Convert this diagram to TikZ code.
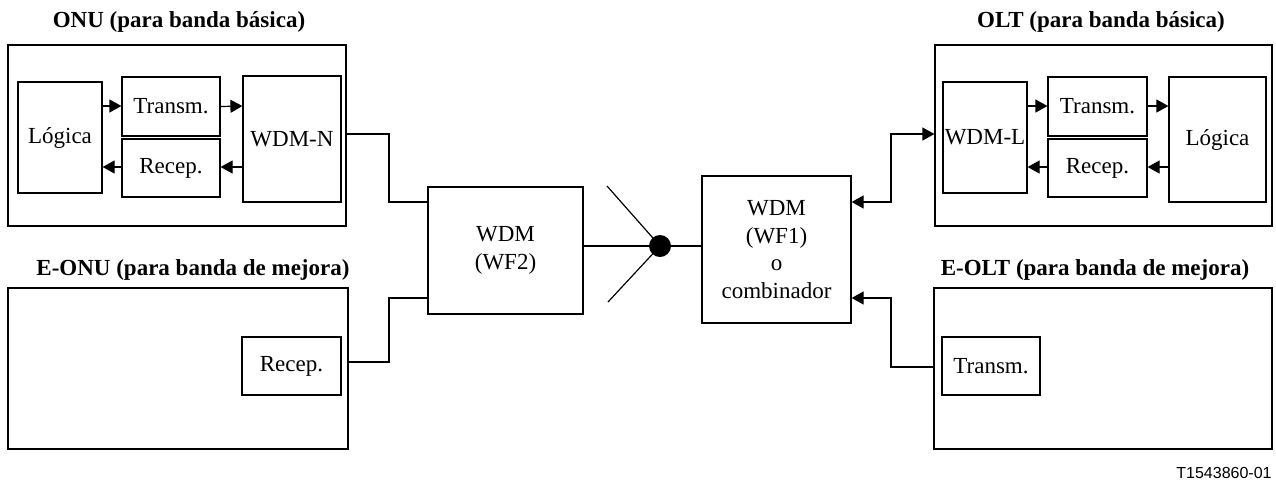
\documentclass[tikz,border=0pt]{standalone}
\usepackage{fontspec}
\setmainfont{Liberation Serif}
\newfontfamily\footfont{Liberation Sans}
\usetikzlibrary{arrows.meta}
\begin{document}
\begin{tikzpicture}[x=0.5pt,y=-0.5pt,
  box/.style={draw, line width=0.6pt, inner sep=0pt, align=center, font=\fontsize{11.5}{13.7}\selectfont},
  ttl/.style={font=\fontsize{11.5}{13}\selectfont\bfseries, inner sep=0pt},
  wire/.style={line width=0.6pt},
  arr/.style={wire, -{Triangle[length=6pt,width=6.5pt]}},
  darr/.style={wire, {Triangle[length=6pt,width=6.5pt]}-{Triangle[length=6pt,width=6.5pt]}},
]
\useasboundingbox (0,0) rectangle (1276,479);

% titles
\node[ttl] (tonu) at (179,22) {ONU (para banda básica)};
\node[ttl] (tolt) at (1101,22) {OLT (para banda básica)};
\node[ttl] (teonu) at (193,270) {E-ONU (para banda de mejora)};
\node[ttl] (teolt) at (1095,270) {E-OLT (para banda de mejora)};

% ONU
\node[box, minimum width=169pt, minimum height=90.5pt] (onu) at (177,135.5) {};
\node[box, minimum width=42pt, minimum height=55.5pt] (nlog) at (60,137.5) {Lógica};
\node[box, minimum width=49pt, minimum height=29.5pt] (ntx) at (171,106.5) {Transm.};
\node[box, minimum width=49pt, minimum height=29pt] (nrx) at (171,168) {Recep.};
\node[box, minimum width=49pt, minimum height=63pt] (wdmn) at (292,139) {WDM-N};

% OLT
\node[box, minimum width=168.5pt, minimum height=90.5pt] (olt) at (1103.5,135.5) {};
\node[box, minimum width=42pt, minimum height=55.5pt] (wdml) at (985,137.5) {WDM-L};
\node[box, minimum width=49.5pt, minimum height=29.5pt] (ltx) at (1097.5,106.5) {Transm.};
\node[box, minimum width=49.5pt, minimum height=29pt] (lrx) at (1097.5,168) {Recep.};
\node[box, minimum width=48.5pt, minimum height=62.5pt] (llog) at (1217.5,139.5) {Lógica};

% E-ONU / E-OLT
\node[box, minimum width=170pt, minimum height=80.5pt] (eonu) at (178,368.5) {};
\node[box, minimum width=49.5pt, minimum height=29pt] (erx) at (291.5,366) {Recep.};
\node[box, minimum width=169pt, minimum height=80.5pt] (eolt) at (1103,368.5) {};
\node[box, minimum width=49pt, minimum height=29pt] (etx) at (991,366) {Transm.};

% WDM boxes
\node[box, minimum width=77.5pt, minimum height=63.5pt] (wdm2) at (505.5,250.5) {WDM\\(WF2)};
\node[box, minimum width=74.5pt, minimum height=73.5pt] (wdm1) at (776.5,249.5) {WDM\\(WF1)\\o\\combinador};

% splitter
\node[circle, fill=black, inner sep=0pt, minimum size=11pt] (dot) at (660,246) {};
\coordinate (s1) at (607,186);
\coordinate (s2) at (608,302);
\draw[wire] (s1) -- (dot.center);
\draw[wire] (s2) -- (dot.center);
\draw[wire] (wdm2.east |- dot) -- (dot);
\draw[wire] (dot) -- (wdm1.west |- dot);

% ONU internal arrows
\draw[arr] (nlog.east |- 0,106) -- (ntx.west |- 0,106);
\draw[arr] (ntx.east) -- (wdmn.west |- 0,106);
\draw[arr] (wdmn.west |- 0,167) -- (nrx.east |- 0,167);
\draw[arr] (nrx.west |- 0,167) -- (nlog.east |- 0,167);

% OLT internal arrows
\draw[arr] (wdml.east |- 0,106) -- (ltx.west |- 0,106);
\draw[arr] (ltx.east |- 0,106) -- (llog.west |- 0,106);
\draw[arr] (llog.west |- 0,167) -- (lrx.east |- 0,167);
\draw[arr] (lrx.west |- 0,167) -- (wdml.east |- 0,167);

% left connectors
\draw[wire] (onu.east |- 0,134) -- (389,134) -- (389,202) -- (wdm2.west |- 0,202);
\draw[wire] (eonu.east |- 0,362) -- (389,362) -- (389,298) -- (wdm2.west |- 0,298);

% right connectors
\draw[darr] (wdm1.east |- 0,202) -- (891,202) -- (891,134) -- (olt.west |- 0,134);
\draw[arr] (eolt.west |- 0,367) -- (891,367) -- (891,298) -- (wdm1.east |- 0,298);

% figure number
\node[font=\footfont\fontsize{8}{10}\selectfont, inner sep=0pt] (fig) at (1224,473) {T1543860-01};
\end{tikzpicture}
\end{document}
